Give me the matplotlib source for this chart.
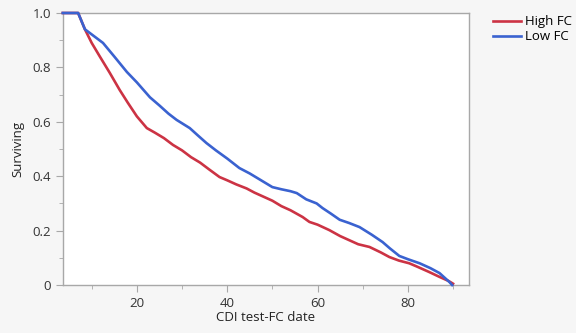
import matplotlib
matplotlib.use("Agg")
import matplotlib.pyplot as plt
from matplotlib.ticker import MultipleLocator

# Survival curves
high_t = [3.6, 7.0, 8.5, 10, 11.8, 14, 16.2, 18, 20, 22.2, 24, 26, 28, 30, 32, 34, 36,
          38.3, 40, 42, 44.3, 46, 48, 50, 52, 54, 56.7, 58.2, 60, 62.6, 65, 67, 69,
          71.5, 74, 75.9, 78, 80.3, 82, 84.7, 87, 89, 90]
high_s = [1.0, 1.0, 0.94, 0.89, 0.84, 0.78, 0.717, 0.67, 0.62, 0.577, 0.56, 0.54, 0.515,
          0.495, 0.47, 0.45, 0.425, 0.397, 0.385, 0.37, 0.355, 0.34, 0.325, 0.31, 0.29,
          0.275, 0.25, 0.232, 0.222, 0.202, 0.18, 0.165, 0.15, 0.14, 0.12, 0.103, 0.09,
          0.08, 0.068, 0.048, 0.03, 0.015, 0.005]

low_t = [3.6, 7.0, 8.5, 10.5, 12.5, 15, 17.8, 20, 22.9, 25, 27, 28.8, 31.7, 33.5, 35.4,
         37.5, 40, 42.7, 45, 47, 50, 52, 54, 55.4, 57.5, 59.8, 61.1, 63, 64.9, 67, 69.3,
         72, 74.4, 76, 78.1, 80, 82.6, 85, 87, 89.2, 89.8]
low_s = [1.0, 1.0, 0.94, 0.915, 0.89, 0.84, 0.783, 0.745, 0.69, 0.66, 0.63, 0.607, 0.577,
         0.55, 0.522, 0.495, 0.465, 0.43, 0.41, 0.39, 0.36, 0.352, 0.345, 0.338, 0.315,
         0.30, 0.283, 0.262, 0.24, 0.228, 0.213, 0.185, 0.158, 0.135, 0.107, 0.095, 0.08,
         0.062, 0.044, 0.011, 0.0]

plt.rcParams['font.family'] = ['Open Sans', 'DejaVu Sans']

fig = plt.figure(figsize=(5.76, 3.33), dpi=100, facecolor="#f6f6f6")
ax = fig.add_axes([0.109, 0.144, 0.705, 0.817])
ax.set_facecolor("white")

ax.plot(high_t, high_s, color="#cc3344", lw=1.9, label="High FC", clip_on=False, zorder=3)
ax.plot(low_t, low_s, color="#3a62d0", lw=1.9, label="Low FC", clip_on=False, zorder=3)

ax.set_xlim(3.6, 93.5)
ax.set_ylim(0, 1.0)
ax.xaxis.set_major_locator(MultipleLocator(20))
ax.xaxis.set_minor_locator(MultipleLocator(10))
ax.yaxis.set_minor_locator(MultipleLocator(0.1))
ax.set_yticks([0, 0.2, 0.4, 0.6, 0.8, 1.0])
ax.set_yticklabels(["0", "0.2", "0.4", "0.6", "0.8", "1.0"])

for s in ax.spines.values():
    s.set_color("#a8a8a8")
    s.set_linewidth(1.0)
ax.tick_params(which="major", length=5, color="#a8a8a8", labelsize=9.5,
               labelcolor="#333333")
ax.tick_params(which="minor", length=3, color="#a8a8a8")

ax.set_xlabel("CDI test-FC date", fontsize=9.5, color="#222222", labelpad=1)
ax.set_ylabel("Surviving", fontsize=9.5, color="#222222", labelpad=6)

fig.legend(loc="upper left", bbox_to_anchor=(0.835, 0.99), frameon=False,
           fontsize=9.5, handlelength=2.1, handletextpad=0.3, labelspacing=0.15)

fig.savefig("out.png", dpi=100, facecolor=fig.get_facecolor())
